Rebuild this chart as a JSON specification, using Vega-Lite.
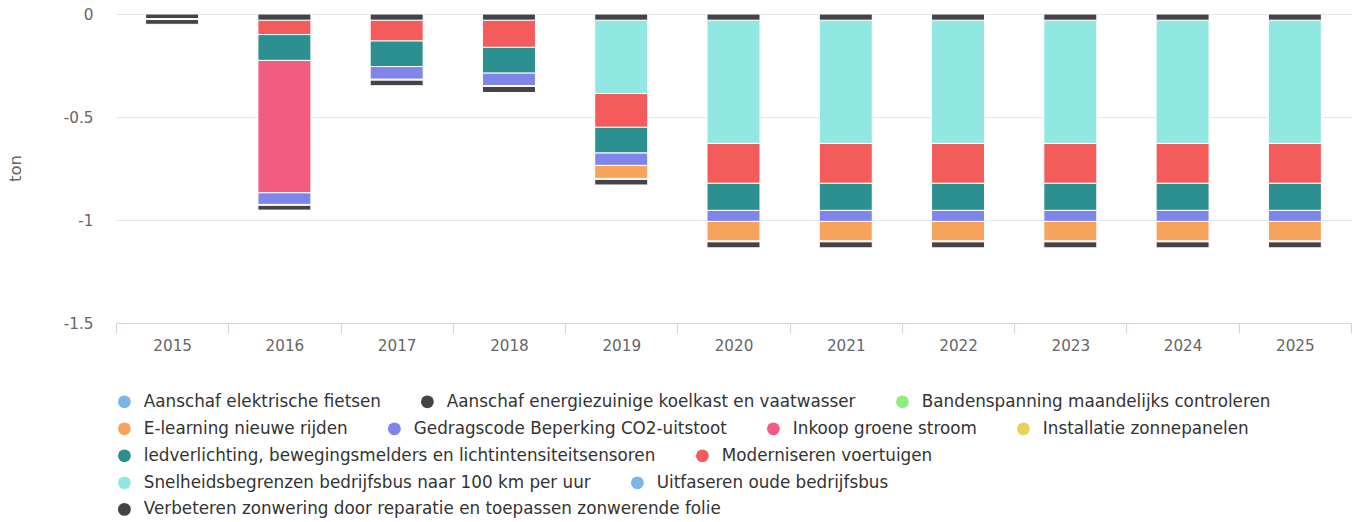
{
  "$schema": "https://vega.github.io/schema/vega-lite/v6.json",
  "autosize": {"type": "none"},
  "width": 1235,
  "height": 309,
  "padding": {"left": 116, "top": 14, "right": 5, "bottom": 199},
  "background": "#ffffff",
  "config": {
    "font": "DejaVu Sans",
    "view": {"stroke": null},
    "legend": {
      "orient": "none",
      "direction": "horizontal",
      "symbolType": "circle",
      "symbolSize": 165,
      "symbolStrokeWidth": 0,
      "symbolOpacity": 1,
      "labelFont": "DejaVu Sans",
      "labelFontSize": 16.8,
      "labelColor": "#333333",
      "labelLimit": 2000,
      "labelOffset": 11,
      "columnPadding": 38,
      "padding": 0,
      "title": null
    }
  },
  "data": {
    "values": [
      {"year": "2015", "series": "Verbeteren zonwering door reparatie en toepassen zonwerende folie", "n": 12, "value": -0.022},
      {"year": "2015", "series": "Bandenspanning maandelijks controleren", "n": 3, "value": -0.005},
      {"year": "2015", "series": "Aanschaf energiezuinige koelkast en vaatwasser", "n": 2, "value": -0.023},

      {"year": "2016", "series": "Verbeteren zonwering door reparatie en toepassen zonwerende folie", "n": 12, "value": -0.03},
      {"year": "2016", "series": "Moderniseren voertuigen", "n": 9, "value": -0.07},
      {"year": "2016", "series": "ledverlichting, bewegingsmelders en lichtintensiteitsensoren", "n": 8, "value": -0.125},
      {"year": "2016", "series": "Inkoop groene stroom", "n": 6, "value": -0.643},
      {"year": "2016", "series": "Gedragscode Beperking CO2-uitstoot", "n": 5, "value": -0.056},
      {"year": "2016", "series": "Bandenspanning maandelijks controleren", "n": 3, "value": -0.005},
      {"year": "2016", "series": "Aanschaf energiezuinige koelkast en vaatwasser", "n": 2, "value": -0.023},

      {"year": "2017", "series": "Verbeteren zonwering door reparatie en toepassen zonwerende folie", "n": 12, "value": -0.03},
      {"year": "2017", "series": "Moderniseren voertuigen", "n": 9, "value": -0.101},
      {"year": "2017", "series": "ledverlichting, bewegingsmelders en lichtintensiteitsensoren", "n": 8, "value": -0.124},
      {"year": "2017", "series": "Gedragscode Beperking CO2-uitstoot", "n": 5, "value": -0.061},
      {"year": "2017", "series": "Bandenspanning maandelijks controleren", "n": 3, "value": -0.005},
      {"year": "2017", "series": "Aanschaf energiezuinige koelkast en vaatwasser", "n": 2, "value": -0.027},

      {"year": "2018", "series": "Verbeteren zonwering door reparatie en toepassen zonwerende folie", "n": 12, "value": -0.03},
      {"year": "2018", "series": "Moderniseren voertuigen", "n": 9, "value": -0.132},
      {"year": "2018", "series": "ledverlichting, bewegingsmelders en lichtintensiteitsensoren", "n": 8, "value": -0.124},
      {"year": "2018", "series": "Gedragscode Beperking CO2-uitstoot", "n": 5, "value": -0.061},
      {"year": "2018", "series": "Bandenspanning maandelijks controleren", "n": 3, "value": -0.005},
      {"year": "2018", "series": "Aanschaf energiezuinige koelkast en vaatwasser", "n": 2, "value": -0.029},

      {"year": "2019", "series": "Verbeteren zonwering door reparatie en toepassen zonwerende folie", "n": 12, "value": -0.03},
      {"year": "2019", "series": "Snelheidsbegrenzen bedrijfsbus naar 100 km per uur", "n": 10, "value": -0.356},
      {"year": "2019", "series": "Moderniseren voertuigen", "n": 9, "value": -0.164},
      {"year": "2019", "series": "ledverlichting, bewegingsmelders en lichtintensiteitsensoren", "n": 8, "value": -0.124},
      {"year": "2019", "series": "Gedragscode Beperking CO2-uitstoot", "n": 5, "value": -0.061},
      {"year": "2019", "series": "E-learning nieuwe rijden", "n": 4, "value": -0.063},
      {"year": "2019", "series": "Bandenspanning maandelijks controleren", "n": 3, "value": -0.005},
      {"year": "2019", "series": "Aanschaf energiezuinige koelkast en vaatwasser", "n": 2, "value": -0.027},

      {"year": "2020", "series": "Verbeteren zonwering door reparatie en toepassen zonwerende folie", "n": 12, "value": -0.03},
      {"year": "2020", "series": "Snelheidsbegrenzen bedrijfsbus naar 100 km per uur", "n": 10, "value": -0.598},
      {"year": "2020", "series": "Moderniseren voertuigen", "n": 9, "value": -0.194},
      {"year": "2020", "series": "ledverlichting, bewegingsmelders en lichtintensiteitsensoren", "n": 8, "value": -0.131},
      {"year": "2020", "series": "Gedragscode Beperking CO2-uitstoot", "n": 5, "value": -0.054},
      {"year": "2020", "series": "E-learning nieuwe rijden", "n": 4, "value": -0.094},
      {"year": "2020", "series": "Bandenspanning maandelijks controleren", "n": 3, "value": -0.005},
      {"year": "2020", "series": "Aanschaf energiezuinige koelkast en vaatwasser", "n": 2, "value": -0.029},

      {"year": "2021", "series": "Verbeteren zonwering door reparatie en toepassen zonwerende folie", "n": 12, "value": -0.03},
      {"year": "2021", "series": "Snelheidsbegrenzen bedrijfsbus naar 100 km per uur", "n": 10, "value": -0.598},
      {"year": "2021", "series": "Moderniseren voertuigen", "n": 9, "value": -0.194},
      {"year": "2021", "series": "ledverlichting, bewegingsmelders en lichtintensiteitsensoren", "n": 8, "value": -0.131},
      {"year": "2021", "series": "Gedragscode Beperking CO2-uitstoot", "n": 5, "value": -0.054},
      {"year": "2021", "series": "E-learning nieuwe rijden", "n": 4, "value": -0.094},
      {"year": "2021", "series": "Bandenspanning maandelijks controleren", "n": 3, "value": -0.005},
      {"year": "2021", "series": "Aanschaf energiezuinige koelkast en vaatwasser", "n": 2, "value": -0.029},

      {"year": "2022", "series": "Verbeteren zonwering door reparatie en toepassen zonwerende folie", "n": 12, "value": -0.03},
      {"year": "2022", "series": "Snelheidsbegrenzen bedrijfsbus naar 100 km per uur", "n": 10, "value": -0.598},
      {"year": "2022", "series": "Moderniseren voertuigen", "n": 9, "value": -0.194},
      {"year": "2022", "series": "ledverlichting, bewegingsmelders en lichtintensiteitsensoren", "n": 8, "value": -0.131},
      {"year": "2022", "series": "Gedragscode Beperking CO2-uitstoot", "n": 5, "value": -0.054},
      {"year": "2022", "series": "E-learning nieuwe rijden", "n": 4, "value": -0.094},
      {"year": "2022", "series": "Bandenspanning maandelijks controleren", "n": 3, "value": -0.005},
      {"year": "2022", "series": "Aanschaf energiezuinige koelkast en vaatwasser", "n": 2, "value": -0.029},

      {"year": "2023", "series": "Verbeteren zonwering door reparatie en toepassen zonwerende folie", "n": 12, "value": -0.03},
      {"year": "2023", "series": "Snelheidsbegrenzen bedrijfsbus naar 100 km per uur", "n": 10, "value": -0.598},
      {"year": "2023", "series": "Moderniseren voertuigen", "n": 9, "value": -0.194},
      {"year": "2023", "series": "ledverlichting, bewegingsmelders en lichtintensiteitsensoren", "n": 8, "value": -0.131},
      {"year": "2023", "series": "Gedragscode Beperking CO2-uitstoot", "n": 5, "value": -0.054},
      {"year": "2023", "series": "E-learning nieuwe rijden", "n": 4, "value": -0.094},
      {"year": "2023", "series": "Bandenspanning maandelijks controleren", "n": 3, "value": -0.005},
      {"year": "2023", "series": "Aanschaf energiezuinige koelkast en vaatwasser", "n": 2, "value": -0.029},

      {"year": "2024", "series": "Verbeteren zonwering door reparatie en toepassen zonwerende folie", "n": 12, "value": -0.03},
      {"year": "2024", "series": "Snelheidsbegrenzen bedrijfsbus naar 100 km per uur", "n": 10, "value": -0.598},
      {"year": "2024", "series": "Moderniseren voertuigen", "n": 9, "value": -0.194},
      {"year": "2024", "series": "ledverlichting, bewegingsmelders en lichtintensiteitsensoren", "n": 8, "value": -0.131},
      {"year": "2024", "series": "Gedragscode Beperking CO2-uitstoot", "n": 5, "value": -0.054},
      {"year": "2024", "series": "E-learning nieuwe rijden", "n": 4, "value": -0.094},
      {"year": "2024", "series": "Bandenspanning maandelijks controleren", "n": 3, "value": -0.005},
      {"year": "2024", "series": "Aanschaf energiezuinige koelkast en vaatwasser", "n": 2, "value": -0.029},

      {"year": "2025", "series": "Verbeteren zonwering door reparatie en toepassen zonwerende folie", "n": 12, "value": -0.03},
      {"year": "2025", "series": "Snelheidsbegrenzen bedrijfsbus naar 100 km per uur", "n": 10, "value": -0.598},
      {"year": "2025", "series": "Moderniseren voertuigen", "n": 9, "value": -0.194},
      {"year": "2025", "series": "ledverlichting, bewegingsmelders en lichtintensiteitsensoren", "n": 8, "value": -0.131},
      {"year": "2025", "series": "Gedragscode Beperking CO2-uitstoot", "n": 5, "value": -0.054},
      {"year": "2025", "series": "E-learning nieuwe rijden", "n": 4, "value": -0.094},
      {"year": "2025", "series": "Bandenspanning maandelijks controleren", "n": 3, "value": -0.005},
      {"year": "2025", "series": "Aanschaf energiezuinige koelkast en vaatwasser", "n": 2, "value": -0.029}
    ]
  },
  "transform": [
    {"stack": "value", "groupby": ["year"], "sort": [{"field": "n", "order": "descending"}], "as": ["v0", "v1"]}
  ],
  "encoding": {
    "x": {
      "field": "year",
      "type": "ordinal",
      "scale": {"domain": ["2015","2016","2017","2018","2019","2020","2021","2022","2023","2024","2025"], "paddingInner": 0, "paddingOuter": 0},
      "axis": {
        "title": null,
        "labelAngle": 0,
        "labelFontSize": 15.2,
        "labelColor": "#666666",
        "labelPadding": 5,
        "domainColor": "#ccd6eb",
        "domainWidth": 1,
        "tickColor": "#ccd6eb",
        "tickSize": 10,
        "tickBand": "extent",
        "grid": false
      }
    },
    "y": {
      "field": "v1",
      "type": "quantitative",
      "scale": {"domain": [-1.5, 0], "nice": false, "zero": false},
      "axis": {
        "title": "ton",
        "titleFontSize": 16.5,
        "titleFontWeight": "normal",
        "titleColor": "#666666",
        "titleX": -101,
        "titleY": 154,
        "titleAngle": -90,
        "titleAlign": "center",
        "titleBaseline": "middle",
        "values": [0, -0.5, -1, -1.5],
        "labelExpr": "datum.value == 0 ? '0' : '-' + format(abs(datum.value), '')",
        "labelFontSize": 15.2,
        "labelColor": "#666666",
        "labelPadding": 23,
        "domain": false,
        "ticks": false,
        "grid": true,
        "gridColor": "#e6e6e6",
        "gridWidth": 1
      }
    },
    "y2": {"field": "v0"}
  },
  "layer": [
    {
      "transform": [{"filter": {"field": "series", "oneOf": ["Aanschaf elektrische fietsen", "Aanschaf energiezuinige koelkast en vaatwasser", "Bandenspanning maandelijks controleren"]}}],
      "mark": {"type": "bar", "width": {"band": 0.472}, "stroke": "#ffffff", "strokeWidth": 1},
      "encoding": {
        "color": {
          "field": "series", "type": "nominal",
          "scale": {"domain": ["Aanschaf elektrische fietsen", "Aanschaf energiezuinige koelkast en vaatwasser", "Bandenspanning maandelijks controleren"], "range": ["#7cb5ec", "#434348", "#90ed7d"]},
          "legend": {"orient": "none", "legendX": 0, "legendY": 379}
        }
      }
    },
    {
      "transform": [{"filter": {"field": "series", "oneOf": ["E-learning nieuwe rijden", "Gedragscode Beperking CO2-uitstoot", "Inkoop groene stroom", "Installatie zonnepanelen"]}}],
      "mark": {"type": "bar", "width": {"band": 0.472}, "stroke": "#ffffff", "strokeWidth": 1},
      "encoding": {
        "color": {
          "field": "series", "type": "nominal",
          "scale": {"domain": ["E-learning nieuwe rijden", "Gedragscode Beperking CO2-uitstoot", "Inkoop groene stroom", "Installatie zonnepanelen"], "range": ["#f7a35c", "#8085e9", "#f15c80", "#e4d354"]},
          "legend": {"orient": "none", "legendX": 0, "legendY": 406}
        }
      }
    },
    {
      "transform": [{"filter": {"field": "series", "oneOf": ["ledverlichting, bewegingsmelders en lichtintensiteitsensoren", "Moderniseren voertuigen"]}}],
      "mark": {"type": "bar", "width": {"band": 0.472}, "stroke": "#ffffff", "strokeWidth": 1},
      "encoding": {
        "color": {
          "field": "series", "type": "nominal",
          "scale": {"domain": ["ledverlichting, bewegingsmelders en lichtintensiteitsensoren", "Moderniseren voertuigen"], "range": ["#2b908f", "#f45b5b"]},
          "legend": {"orient": "none", "legendX": 0, "legendY": 433}
        }
      }
    },
    {
      "transform": [{"filter": {"field": "series", "oneOf": ["Snelheidsbegrenzen bedrijfsbus naar 100 km per uur", "Uitfaseren oude bedrijfsbus"]}}],
      "mark": {"type": "bar", "width": {"band": 0.472}, "stroke": "#ffffff", "strokeWidth": 1},
      "encoding": {
        "color": {
          "field": "series", "type": "nominal",
          "scale": {"domain": ["Snelheidsbegrenzen bedrijfsbus naar 100 km per uur", "Uitfaseren oude bedrijfsbus"], "range": ["#91e8e1", "#7cb5ec"]},
          "legend": {"orient": "none", "legendX": 0, "legendY": 460}
        }
      }
    },
    {
      "transform": [{"filter": {"field": "series", "oneOf": ["Verbeteren zonwering door reparatie en toepassen zonwerende folie"]}}],
      "mark": {"type": "bar", "width": {"band": 0.472}, "stroke": "#ffffff", "strokeWidth": 1},
      "encoding": {
        "color": {
          "field": "series", "type": "nominal",
          "scale": {"domain": ["Verbeteren zonwering door reparatie en toepassen zonwerende folie"], "range": ["#434348"]},
          "legend": {"orient": "none", "legendX": 0, "legendY": 487}
        }
      }
    }
  ],
  "resolve": {"scale": {"color": "independent"}, "legend": {"color": "independent"}}
}
